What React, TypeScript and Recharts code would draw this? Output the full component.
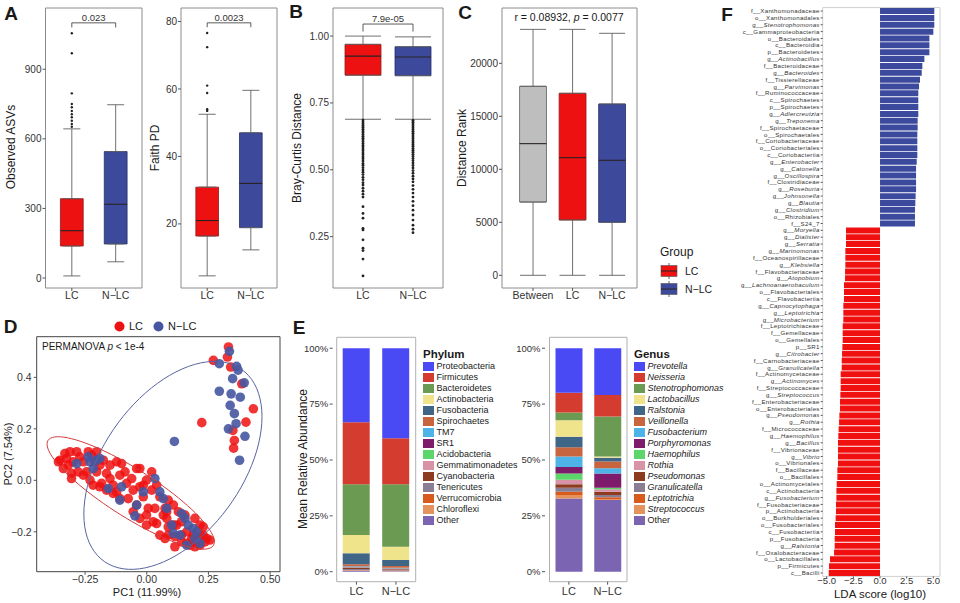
import React from "react";
import {
  Bar,
  BarChart,
  Cell,
  ErrorBar,
  Legend,
  ReferenceArea,
  ReferenceLine,
  Scatter,
  ScatterChart,
  XAxis,
  YAxis,
} from "recharts";

const FONT = "'Liberation Sans', Arial, Helvetica, sans-serif";
const INK = "#1a1a1a";
const LC_RED = "#ee1111";
const NLC_BLUE = "#3d4a9c";
const BETWEEN_GREY = "#bebebe";
const TICK = { fontSize: 10, fill: "#333", fontFamily: FONT };

// ---------- A: alpha diversity ----------
const alphaGroups = ["LC", "N−LC"];
const asvLow = [9, 70];
const asvQ1 = [138, 147];
const asvMedian = [204, 318];
const asvQ3 = [342, 545];
const asvHigh = [643, 747];
const asvOutliersLC = [1055, 969, 796, 750, 736, 720, 706, 693, 678, 664, 652];
const asvOutliersNLC: number[] = [];
const asvTicks = [0, 300, 600, 900];

const faithLow = [4.6, 12.3];
const faithQ1 = [16.4, 18.9];
const faithMedian = [21.0, 32.0];
const faithQ3 = [30.9, 47.0];
const faithHigh = [52.5, 59.6];
const faithOutliersLC = [76.6, 72.4, 61.0, 58.8, 54.0, 53.5];
const faithOutliersNLC: number[] = [];
const faithTicks = [20, 40, 60, 80];

// ---------- B: Bray-Curtis ----------
const brayLow = [0.689, 0.689];
const brayQ1 = [0.854, 0.852];
const brayMedian = [0.925, 0.922];
const brayQ3 = [0.969, 0.96];
const brayHigh = [1.0, 0.997];
const brayOutliersLC = [
  0.686, 0.679, 0.672, 0.666, 0.659, 0.652, 0.645, 0.639, 0.632, 0.625, 0.618, 0.612, 0.605, 0.598,
  0.591, 0.585, 0.578, 0.571, 0.563, 0.556, 0.548, 0.541, 0.533, 0.524, 0.517, 0.508, 0.499, 0.491,
  0.482, 0.472, 0.463, 0.452, 0.443, 0.431, 0.42, 0.409, 0.398, 0.362, 0.337, 0.319, 0.281, 0.275,
  0.238, 0.207, 0.198, 0.166, 0.103,
];
const brayOutliersNLC = [
  0.685, 0.678, 0.671, 0.664, 0.657, 0.651, 0.644, 0.637, 0.63, 0.623, 0.616, 0.609, 0.602, 0.595,
  0.588, 0.58, 0.573, 0.566, 0.558, 0.55, 0.542, 0.534, 0.525, 0.516, 0.507, 0.497, 0.487, 0.476,
  0.466, 0.455, 0.441, 0.427, 0.413, 0.398, 0.382, 0.366, 0.349, 0.331, 0.312, 0.293, 0.278, 0.265,
];
const brayTicks = [0.25, 0.5, 0.75, 1.0];

// ---------- C: ANOSIM distance ranks ----------
const rankGroups = ["Between", "LC", "N−LC"];
const rankLow = [0, 0, 0];
const rankQ1 = [6910, 5220, 5000];
const rankMedian = [12420, 11100, 10850];
const rankQ3 = [17830, 17170, 16160];
const rankHigh = [23200, 23200, 22830];
const rankTicks = [0, 5000, 10000, 15000, 20000];

const legendGroups = ["LC", "N−LC"];
const legendGroupColors = [LC_RED, NLC_BLUE];

// ---------- D: PCoA ----------
const lcScores: [number, number][] = [
  [-0.352, 0.078], [-0.332, 0.104], [-0.311, 0.111], [-0.284, 0.111], [-0.271, 0.091], [-0.318, 0.059],
  [-0.298, 0.072], [-0.338, 0.046], [-0.305, 0.027], [-0.257, 0.072], [-0.237, 0.111], [-0.223, 0.098],
  [-0.21, 0.072], [-0.244, 0.033], [-0.203, 0.033], [-0.19, 0.059], [-0.176, 0.078], [-0.163, 0.027],
  [-0.183, -0.012], [-0.149, 0.007], [-0.136, -0.019], [-0.122, 0.072], [-0.102, 0.065], [-0.088, 0.033],
  [-0.082, -0.012], [-0.061, 0.007], [-0.041, 0.046], [-0.055, -0.038], [-0.028, -0.025], [-0.001, 0.001],
  [-0.014, -0.064], [0.02, -0.038], [0.04, -0.019], [0.053, -0.064], [0.087, -0.077], [0.074, -0.109],
  [0.108, -0.096], [0.128, -0.122], [0.155, -0.135], [0.195, -0.148], [0.216, -0.174], [0.243, -0.226],
  [0.229, -0.213], [0.202, -0.239], [0.175, -0.252], [0.141, -0.239], [0.114, -0.219], [0.087, -0.213],
  [0.053, -0.213], [0.026, -0.161], [-0.001, -0.174], [-0.028, -0.148], [0.006, -0.109], [-0.041, -0.096],
  [-0.075, -0.071], [-0.109, -0.071], [-0.136, -0.051], [-0.163, -0.038], [-0.19, -0.025], [-0.217, -0.019],
  [-0.23, 0.001], [-0.257, 0.02], [-0.278, 0.033], [-0.305, 0.007], [-0.325, 0.085], [-0.358, 0.072],
  [-0.203, 0.111], [-0.149, 0.059], [-0.109, 0.02], [-0.028, 0.046], [-0.122, -0.045], [0.081, -0.148],
  [0.121, -0.174], [0.162, -0.2], [0.216, -0.213], [0.236, -0.239], [0.256, -0.232], [0.182, -0.226],
  [0.141, -0.213], [0.108, -0.174], [0.067, -0.135], [0.033, -0.109], [0.04, -0.168], [0.087, -0.181],
  [0.141, -0.161], [0.162, -0.245], [0.195, -0.258], [0.216, -0.252], [0.114, -0.258], [0.074, -0.226],
  [-0.001, -0.135], [-0.055, -0.122], [-0.014, -0.019], [0.02, 0.033], [0.081, -0.122], [0.189, -0.213],
  [0.229, -0.181],
  [0.331, 0.518], [0.27, 0.466], [0.327, 0.479], [0.34, 0.44], [0.385, 0.375], [0.432, 0.278],
  [0.402, 0.226], [0.223, 0.224], [0.349, 0.194], [0.355, 0.155], [0.352, 0.125],
];
const nlcScores: [number, number][] = [
  [-0.284, 0.065], [-0.237, 0.091], [-0.203, 0.078], [-0.19, 0.085], [-0.23, 0.072], [-0.217, 0.046],
  [-0.156, -0.032], [-0.102, -0.025], [-0.109, -0.077], [-0.041, -0.096], [-0.048, -0.138], [-0.014, -0.045],
  [0.033, 0.007], [0.053, -0.045], [0.067, -0.071], [0.081, -0.109], [0.101, -0.174], [0.108, -0.206],
  [0.141, -0.129], [0.155, -0.148], [0.168, -0.174], [0.189, -0.187], [0.202, -0.2], [0.195, -0.226],
  [0.216, -0.245], [0.162, -0.252], [0.135, -0.213],
  [0.335, 0.501], [0.294, 0.453], [0.364, 0.443], [0.37, 0.428], [0.348, 0.395], [0.395, 0.379],
  [0.294, 0.346], [0.342, 0.336], [0.379, 0.323], [0.338, 0.291], [0.355, 0.259], [0.362, 0.22],
  [0.331, 0.2], [0.398, 0.171], [0.376, 0.078], [0.112, 0.151],
];
// confidence ellipses: centre and two conjugate half-axes, in PC units
const lcEllipse = { cx: -0.065, cy: -0.049, ax: 0.335, ay: -0.204, bx: 0.052, by: 0.078 };
const nlcEllipse = { cx: 0.106, cy: 0.058, ax: 0.361, ay: 0.189, bx: 0, by: 0.357 };
const pcXTicks = [-0.25, 0, 0.25, 0.5];
const pcYTicks = [-0.2, 0, 0.2, 0.4];

// ---------- E: composition ----------
const phylumNames = [
  "Proteobacteria", "Firmicutes", "Bacteroidetes", "Actinobacteria", "Fusobacteria", "Spirochaetes",
  "TM7", "SR1", "Acidobacteria", "Gemmatimonadetes", "Cyanobacteria", "Tenericutes", "Verrucomicrobia",
  "Chloroflexi", "Other",
];
const phylumLC = [33.1, 27.8, 22.7, 8.2, 4.9, 0.9, 0.2, 0.2, 0.1, 0.3, 0.4, 0.5, 0.2, 0.2, 0.3];
const phylumNLC = [40.3, 20.6, 27.9, 6.0, 2.7, 0.7, 0.3, 0.1, 0.1, 0.2, 0.3, 0.3, 0.2, 0.1, 0.2];

const genusNames = [
  "Prevotella", "Neisseria", "Stenotrophomonas", "Lactobacillus", "Ralstonia", "Veillonella",
  "Fusobacterium", "Porphyromonas", "Haemophilus", "Rothia", "Pseudomonas", "Granulicatella",
  "Leptotrichia", "Streptococcus", "Other",
];
const genusLC = [19.9, 8.9, 3.4, 7.4, 4.7, 4.2, 4.6, 2.9, 2.8, 2.1, 1.5, 1.8, 1.5, 1.5, 32.8];
const genusNLC = [20.9, 9.7, 17.9, 0.5, 1.7, 3.0, 2.3, 6.4, 0.7, 1.1, 1.5, 1.0, 0.8, 0.4, 32.1];

const taxaPalette = [
  "#4a4af5", "#d53c30", "#6b9a52", "#efe38c", "#3f6587", "#c9653e", "#4eb3e6", "#7e1b6b",
  "#5cd66a", "#d893a7", "#8c3b1f", "#897e93", "#d95a1d", "#e4935f", "#7b65b2",
];
const abundanceTicks = [0, 25, 50, 75, 100];

// ---------- F: LEfSe ----------
const taxa = [
  "f__Xanthomonadaceae", "o__Xanthomonadales", "g__Stenotrophomonas", "c__Gammaproteobacteria",
  "o__Bacteroidales", "c__Bacteroidia", "p__Bacteroidetes", "g__Actinobacillus", "f__Bacteroidaceae",
  "g__Bacteroides", "f__Tissierellaceae", "g__Parvimonas", "f__Ruminococcaceae", "c__Spirochaetes",
  "p__Spirochaetes", "g__Adlercreutzia", "g__Treponema", "f__Spirochaetaceae", "o__Spirochaetales",
  "f__Coriobacteriaceae", "o__Coriobacteriales", "c__Coriobacteriia", "g__Enterobacter", "g__Catonella",
  "g__Oscillospira", "f__Clostridiaceae", "g__Roseburia", "g__Johnsonella", "g__Blautia",
  "g__Clostridium", "o__Rhizobiales", "f__S24_7",
  "g__Moryella", "g__Dialister", "g__Serratia", "g__Marinomonas", "f__Oceanospirillaceae",
  "g__Klebsiella", "f__Flavobacteriaceae", "g__Atopobium", "g__Lachnoanaerobaculum",
  "o__Flavobacteriales", "c__Flavobacteriia", "g__Capnocytophaga", "g__Leptotrichia",
  "g__Microbacterium", "f__Leptotrichiaceae", "f__Gemellaceae", "o__Gemellales", "p__SR1",
  "g__Citrobacter", "f__Carnobacteriaceae", "g__Granulicatella", "f__Actinomycetaceae",
  "g__Actinomyces", "f__Streptococcaceae", "g__Streptococcus", "f__Enterobacteriaceae",
  "o__Enterobacteriales", "g__Pseudomonas", "g__Rothia", "f__Micrococcaceae", "g__Haemophilus",
  "g__Bacillus", "f__Vibrionaceae", "g__Vibrio", "o__Vibrionales", "f__Bacillaceae", "o__Bacillales",
  "o__Actinomycetales", "c__Actinobacteria", "g__Fusobacterium", "f__Fusobacteriaceae",
  "p__Actinobacteria", "o__Burkholderiales", "o__Fusobacteriales", "c__Fusobacteriia",
  "p__Fusobacteria", "g__Ralstonia", "f__Oxalobacteraceae", "o__Lactobacillales", "p__Firmicutes",
  "c__Bacilli",
];
const ldaScores = [
  5.09, 5.09, 5.09, 5.0, 4.63, 4.63, 4.63, 4.16, 3.97, 3.91, 3.75, 3.66, 3.59, 3.59, 3.59, 3.59,
  3.53, 3.53, 3.5, 3.5, 3.5, 3.5, 3.44, 3.38, 3.38, 3.38, 3.38, 3.34, 3.31, 3.28, 3.28, 3.28,
  -3.19, -3.19, -3.19, -3.25, -3.25, -3.25, -3.28, -3.28, -3.38, -3.38, -3.38, -3.44, -3.44, -3.44,
  -3.5, -3.5, -3.5, -3.53, -3.56, -3.59, -3.59, -3.69, -3.69, -3.69, -3.72, -3.75, -3.75, -3.81,
  -3.84, -3.88, -3.91, -3.94, -3.94, -3.94, -3.94, -4.0, -4.0, -4.06, -4.09, -4.09, -4.13, -4.13,
  -4.16, -4.22, -4.22, -4.25, -4.25, -4.31, -4.69, -4.78, -4.81,
];
const ldaTicks = [-5, -2.5, 0, 2.5, 5];

// ---------- helpers ----------
const minus = (s: string) => s.replace("-", "−");
const Hidden = () => <g />;

function Txt({ x, y, size = 12, rotate = false, bold = false, children }: any) {
  return (
    <div
      style={{
        position: "absolute",
        left: x,
        top: y,
        transform: `translate(-50%, -50%)${rotate ? " rotate(-90deg)" : ""}`,
        fontSize: size,
        fontFamily: FONT,
        fontWeight: bold ? 700 : 400,
        whiteSpace: "nowrap",
        lineHeight: 1,
        color: INK,
      }}
    >
      {children}
    </div>
  );
}

type BoxProps = {
  left: number;
  width: number;
  yAxisWidth: number;
  marginRight: number;
  groups: string[];
  low: number[];
  q1: number[];
  median: number[];
  q3: number[];
  high: number[];
  outliers: number[][];
  fills: string[];
  strokes: string[];
  yDomain: [number, number];
  yTicks: number[];
  yFormat?: (v: number) => string;
  xDomain: [number, number];
  boxHalf: number;
  capHalf: number;
  dotR: number;
  bracket?: { y: number; end: number; text: string };
  legend?: React.ReactNode;
};

function BoxPanel(p: BoxProps) {
  const whiskers = p.groups.flatMap((_, i) => [
    { x: i + 1, y: p.q3[i], err: [0, p.high[i] - p.q3[i]] },
    { x: i + 1, y: p.q1[i], err: [p.q1[i] - p.low[i], 0] },
  ]);
  const dots = p.outliers.flatMap((vals, i) => vals.map((v) => ({ x: i + 1, y: v })));
  const Dot = (s: any) => <circle cx={s.cx} cy={s.cy} r={p.dotR} fill="#222" />;
  return (
    <div style={{ position: "absolute", left: p.left, top: 0 }}>
      <ScatterChart width={p.width} height={303} margin={{ top: 8, right: p.marginRight, bottom: 0, left: 0 }}>
        <XAxis
          type="number"
          dataKey="x"
          domain={p.xDomain}
          allowDataOverflow
          ticks={p.groups.map((_, i) => i + 1)}
          interval={0}
          tickFormatter={(v) => p.groups[Math.round(v) - 1] ?? ""}
          height={15}
          tickSize={3}
          tickMargin={1}
          axisLine={false}
          stroke="#555"
          tick={{ ...TICK, fontSize: 10.5 }}
        />
        <YAxis
          type="number"
          dataKey="y"
          domain={p.yDomain}
          allowDataOverflow
          ticks={p.yTicks}
          interval={0}
          tickFormatter={p.yFormat}
          width={p.yAxisWidth}
          tickSize={3}
          tickMargin={1}
          axisLine={false}
          stroke="#555"
          tick={TICK}
        />
        <ReferenceArea
          x1={p.xDomain[0]}
          x2={p.xDomain[1]}
          y1={p.yDomain[0]}
          y2={p.yDomain[1]}
          fill="none"
          stroke="#8c8c8c"
          ifOverflow="visible"
        />
        {p.groups.map((g, i) => (
          <ReferenceArea
            key={"box" + g}
            x1={i + 1 - p.boxHalf}
            x2={i + 1 + p.boxHalf}
            y1={p.q1[i]}
            y2={p.q3[i]}
            fill={p.fills[i]}
            fillOpacity={1}
            stroke={p.strokes[i]}
            strokeWidth={0.8}
            ifOverflow="visible"
          />
        ))}
        {p.groups.map((g, i) => (
          <ReferenceLine
            key={"med" + g}
            segment={[
              { x: i + 1 - p.boxHalf, y: p.median[i] },
              { x: i + 1 + p.boxHalf, y: p.median[i] },
            ]}
            stroke="#2a2222"
            strokeWidth={1.1}
          />
        ))}
        <Scatter data={whiskers} shape={Hidden} isAnimationActive={false}>
          <ErrorBar dataKey="err" direction="y" width={p.capHalf} stroke="#606060" strokeWidth={0.9} isAnimationActive={false} />
        </Scatter>
        <Scatter data={dots} shape={Dot} isAnimationActive={false} />
        {p.bracket && (
          <ReferenceLine
            segment={[
              { x: 1, y: p.bracket.y },
              { x: 2, y: p.bracket.y },
            ]}
            stroke="#333"
            strokeWidth={0.8}
            label={{ value: p.bracket.text, position: "top", offset: 2, fontSize: 9.5, fill: "#333", fontFamily: FONT }}
          />
        )}
        {p.bracket &&
          [1, 2].map((x) => (
            <ReferenceLine
              key={"tick" + x}
              segment={[
                { x, y: p.bracket!.y },
                { x, y: p.bracket!.end },
              ]}
              stroke="#333"
              strokeWidth={0.8}
            />
          ))}
        {p.legend && (
          <Legend
            layout="vertical"
            align="center"
            verticalAlign="middle"
            content={() => p.legend}
            wrapperStyle={{ left: 220, top: 243, width: 70 }}
          />
        )}
      </ScatterChart>
    </div>
  );
}

function GroupLegend() {
  return (
    <div style={{ fontFamily: FONT, color: INK }}>
      <div style={{ fontSize: 12, height: 19, lineHeight: "19px" }}>Group</div>
      {legendGroups.map((g, i) => (
        <div key={g} style={{ display: "flex", alignItems: "center", height: 18 }}>
          <svg width={18} height={18}>
            <line x1={9} x2={9} y1={1} y2={17} stroke="#666" />
            <rect x={1} y={3.5} width={16} height={11} fill={legendGroupColors[i]} stroke="#555" strokeWidth={0.6} />
            <line x1={1} x2={17} y1={9} y2={9} stroke="#2a2222" />
          </svg>
          <span style={{ fontSize: 10.5, marginLeft: 7 }}>{g}</span>
        </div>
      ))}
    </div>
  );
}

function ellipsePoints(e: typeof lcEllipse) {
  const pts = [];
  for (let k = 0; k <= 90; k++) {
    const t = (k / 90) * Math.PI * 2;
    pts.push({ x: e.cx + e.ax * Math.cos(t) + e.bx * Math.sin(t), y: e.cy + e.ay * Math.cos(t) + e.by * Math.sin(t) });
  }
  return pts;
}

function PcoaPanel() {
  const lc = lcScores.map(([x, y]) => ({ x, y }));
  const nlc = nlcScores.map(([x, y]) => ({ x, y }));
  const RedDot = (s: any) => <circle cx={s.cx} cy={s.cy} r={4.8} fill={LC_RED} fillOpacity={0.85} />;
  const BlueDot = (s: any) => <circle cx={s.cx} cy={s.cy} r={4.8} fill="#4656a0" fillOpacity={0.9} />;
  const fmt = (v: number, d: number) => minus(v.toFixed(d));
  return (
    <div style={{ position: "absolute", left: 0, top: 310 }}>
      <ScatterChart width={290} height={293} margin={{ top: 26.7, right: 10, bottom: 0, left: 0 }}>
        <XAxis
          type="number"
          dataKey="x"
          domain={[-0.446, 0.54]}
          allowDataOverflow
          ticks={pcXTicks}
          tickFormatter={(v) => fmt(v, 2)}
          height={31.3}
          tickSize={3}
          tickMargin={1}
          axisLine={false}
          stroke="#555"
          tick={{ ...TICK, fontSize: 10.5 }}
        />
        <YAxis
          type="number"
          dataKey="y"
          domain={[-0.355, 0.558]}
          allowDataOverflow
          ticks={pcYTicks}
          tickFormatter={(v) => fmt(v, 1)}
          width={36.7}
          tickSize={3}
          tickMargin={2}
          axisLine={false}
          stroke="#555"
          tick={{ ...TICK, fontSize: 10.5 }}
        />
        <ReferenceArea x1={-0.446} x2={0.54} y1={-0.355} y2={0.558} fill="none" stroke="#444" ifOverflow="visible" />
        <Scatter data={lc} shape={RedDot} isAnimationActive={false} />
        <Scatter data={nlc} shape={BlueDot} isAnimationActive={false} />
        <Scatter data={ellipsePoints(lcEllipse)} shape={Hidden} line={{ stroke: "#d23c3c", strokeWidth: 1 }} lineType="joint" isAnimationActive={false} />
        <Scatter data={ellipsePoints(nlcEllipse)} shape={Hidden} line={{ stroke: "#5a63a0", strokeWidth: 1 }} lineType="joint" isAnimationActive={false} />
        <Legend
          layout="vertical"
          align="center"
          verticalAlign="middle"
          wrapperStyle={{ left: 114, top: 8, width: 120 }}
          content={() => (
            <div style={{ display: "flex", alignItems: "center", height: 16, fontFamily: FONT, fontSize: 11, color: INK }}>
              {legendGroups.map((g, i) => (
                <span key={g} style={{ display: "flex", alignItems: "center", marginRight: 10 }}>
                  <svg width={11} height={11}>
                    <circle cx={5.5} cy={5.5} r={5} fill={i === 0 ? LC_RED : "#4656a0"} />
                  </svg>
                  <span style={{ marginLeft: 4 }}>{g}</span>
                </span>
              ))}
            </div>
          )}
        />
      </ScatterChart>
    </div>
  );
}

function TaxaLegend({ title, names, italic }: { title: string; names: string[]; italic: boolean }) {
  return (
    <div style={{ fontFamily: FONT, color: INK }}>
      <div style={{ fontSize: 11.5, fontWeight: 700, height: 14, lineHeight: "14px" }}>{title}</div>
      {names.map((n, i) => (
        <div key={n} style={{ display: "flex", alignItems: "center", height: 11 }}>
          <span style={{ width: 10.5, height: 9.5, background: taxaPalette[i], display: "inline-block", marginRight: 3 }} />
          <span
            style={{
              fontSize: 9,
              lineHeight: "11px",
              whiteSpace: "nowrap",
              fontStyle: italic && n !== "Other" ? "italic" : "normal",
            }}
          >
            {n}
          </span>
        </div>
      ))}
    </div>
  );
}

function CompositionPanel({
  left, width, yAxisWidth, marginRight, names, lc, nlc, padding, title, italic, legendLeft,
}: {
  left: number; width: number; yAxisWidth: number; marginRight: number; names: string[]; lc: number[];
  nlc: number[]; padding: { left: number; right: number }; title: string; italic: boolean; legendLeft: number;
}) {
  const rows = [
    { group: "LC", ...Object.fromEntries(names.map((n, i) => [n, lc[i]])) },
    { group: "N−LC", ...Object.fromEntries(names.map((n, i) => [n, nlc[i]])) },
  ];
  const stackOrder = names.map((n, i) => ({ n, c: taxaPalette[i] })).reverse();
  return (
    <div style={{ position: "absolute", left, top: 310 }}>
      <BarChart width={width} height={293} data={rows} barSize={27} margin={{ top: 27.3, right: marginRight, bottom: 0, left: 0 }}>
        <XAxis
          dataKey="group"
          padding={padding}
          height={21.3}
          tickSize={3}
          tickMargin={2}
          axisLine={false}
          stroke="#555"
          tick={{ ...TICK, fontSize: 11 }}
        />
        <YAxis
          type="number"
          domain={[-4.48, 104.9]}
          allowDataOverflow
          ticks={abundanceTicks}
          tickFormatter={(v) => `${v}%`}
          width={yAxisWidth}
          tickSize={3}
          tickMargin={1.5}
          axisLine={false}
          stroke="#555"
          tick={{ ...TICK, fontSize: 9.5 }}
        />
        <ReferenceArea y1={-4.48} y2={104.9} fill="none" stroke="#b0b0b0" ifOverflow="visible" />
        {stackOrder.map(({ n, c }) => (
          <Bar key={n} dataKey={n} stackId="s" fill={c} isAnimationActive={false} />
        ))}
        <Legend
          layout="vertical"
          align="center"
          verticalAlign="middle"
          wrapperStyle={{ left: legendLeft, top: 37, width: 100 }}
          content={() => <TaxaLegend title={title} names={names} italic={italic} />}
        />
      </BarChart>
    </div>
  );
}

function TaxonTick(props: any) {
  const { x, y, payload } = props;
  const label: string = payload.value;
  const cut = label.indexOf("__") + 2;
  const prefix = label.slice(0, cut);
  const name = label.slice(cut);
  return (
    <text x={x} y={y} dy="0.35em" textAnchor="end" fontSize={6.1} letterSpacing={0.3} fill="#333" fontFamily={FONT}>
      <tspan>{prefix}</tspan>
      <tspan fontStyle={prefix === "g__" ? "italic" : "normal"}>{name}</tspan>
    </text>
  );
}

function LdaPanel() {
  const rows = taxa.map((t, i) => ({ taxon: t, lda: ldaScores[i] }));
  return (
    <div style={{ position: "absolute", left: 720, top: 0 }}>
      <BarChart
        layout="vertical"
        width={240}
        height={603}
        data={rows}
        barCategoryGap={0.5}
        margin={{ top: 7.6, right: 20, bottom: 12.6, left: 0 }}
      >
        <XAxis
          type="number"
          domain={[-5.375, 5.625]}
          allowDataOverflow
          ticks={ldaTicks}
          tickFormatter={(v) => minus(v.toFixed(1))}
          height={14}
          tickSize={2}
          tickMargin={-1}
          axisLine={false}
          stroke="#555"
          tick={{ ...TICK, fontSize: 9.5 }}
        />
        <YAxis
          type="category"
          dataKey="taxon"
          width={102.7}
          interval={0}
          tickSize={2}
          tickMargin={1}
          axisLine={false}
          stroke="#555"
          tick={(t: any) => <TaxonTick {...t} />}
        />
        <ReferenceArea x1={-5.375} x2={5.625} fill="none" stroke="#cfcfcf" ifOverflow="visible" />
        <Bar dataKey="lda" isAnimationActive={false}>
          {rows.map((r) => (
            <Cell key={r.taxon} fill={r.lda > 0 ? "#3c4a9e" : "#f01010"} />
          ))}
        </Bar>
      </BarChart>
    </div>
  );
}

export default function App() {
  return (
    <div style={{ position: "absolute", left: 0, top: 0, width: 960, height: 603, background: "#fff", overflow: "hidden" }}>
      <BoxPanel
        left={0}
        width={150}
        yAxisWidth={45.5}
        marginRight={8}
        groups={alphaGroups}
        low={asvLow}
        q1={asvQ1}
        median={asvMedian}
        q3={asvQ3}
        high={asvHigh}
        outliers={[asvOutliersLC, asvOutliersNLC]}
        fills={[LC_RED, NLC_BLUE]}
        strokes={["#8e1c1c", "#252e66"]}
        yDomain={[-43, 1164]}
        yTicks={asvTicks}
        xDomain={[0.4, 2.6]}
        boxHalf={0.26}
        capHalf={8.5}
        dotR={1.2}
        bracket={{ y: 1100, end: 1080, text: "0.023" }}
      />
      <BoxPanel
        left={140}
        width={145}
        yAxisWidth={41}
        marginRight={8}
        groups={alphaGroups}
        low={faithLow}
        q1={faithQ1}
        median={faithMedian}
        q3={faithQ3}
        high={faithHigh}
        outliers={[faithOutliersLC, faithOutliersNLC]}
        fills={[LC_RED, NLC_BLUE]}
        strokes={["#8e1c1c", "#252e66"]}
        yDomain={[1.0, 84.0]}
        yTicks={faithTicks}
        xDomain={[0.4, 2.6]}
        boxHalf={0.26}
        capHalf={8.5}
        dotR={1.2}
        bracket={{ y: 79.6, end: 78.3, text: "0.0023" }}
      />
      <BoxPanel
        left={245}
        width={205}
        yAxisWidth={88}
        marginRight={7}
        groups={alphaGroups}
        low={brayLow}
        q1={brayQ1}
        median={brayMedian}
        q3={brayQ3}
        high={brayHigh}
        outliers={[brayOutliersLC, brayOutliersNLC]}
        fills={[LC_RED, NLC_BLUE]}
        strokes={["#8e1c1c", "#252e66"]}
        yDomain={[0.058, 1.105]}
        yTicks={brayTicks}
        yFormat={(v) => v.toFixed(2)}
        xDomain={[0.4, 2.6]}
        boxHalf={0.36}
        capHalf={18}
        dotR={1.4}
        bracket={{ y: 1.045, end: 1.017, text: "7.9e-05" }}
      />
      <BoxPanel
        left={440}
        width={280}
        yAxisWidth={62}
        marginRight={83}
        groups={rankGroups}
        low={rankLow}
        q1={rankQ1}
        median={rankMedian}
        q3={rankQ3}
        high={rankHigh}
        outliers={[[], [], []]}
        fills={[BETWEEN_GREY, LC_RED, NLC_BLUE]}
        strokes={["#5e5e5e", "#8e1c1c", "#252e66"]}
        yDomain={[-1198, 25217]}
        yTicks={rankTicks}
        xDomain={[0.215, 3.63]}
        boxHalf={0.34}
        capHalf={13}
        dotR={1.2}
        legend={<GroupLegend />}
      />
      <PcoaPanel />
      <CompositionPanel
        left={290}
        width={230}
        yAxisWidth={42.7}
        marginRight={103.3}
        names={phylumNames}
        lc={phylumLC}
        nlc={phylumNLC}
        padding={{ left: 4, right: 1 }}
        title="Phylum"
        italic={false}
        legendLeft={133}
      />
      <CompositionPanel
        left={512}
        width={208}
        yAxisWidth={33}
        marginRight={89}
        names={genusNames}
        lc={genusLC}
        nlc={genusNLC}
        padding={{ left: 4.5, right: 4 }}
        title="Genus"
        italic={true}
        legendLeft={122}
      />
      <LdaPanel />

      <Txt x={11} y={13} size={19} bold>A</Txt>
      <Txt x={296} y={11} size={19} bold>B</Txt>
      <Txt x={465} y={12} size={19} bold>C</Txt>
      <Txt x={10.5} y={326} size={19} bold>D</Txt>
      <Txt x={299} y={327} size={19} bold>E</Txt>
      <Txt x={727} y={14} size={19} bold>F</Txt>

      <Txt x={11} y={147} rotate>Observed ASVs</Txt>
      <Txt x={155} y={148} rotate>Faith PD</Txt>
      <Txt x={297} y={148} rotate>Bray-Curtis Distance</Txt>
      <Txt x={462} y={148} rotate>Distance Rank</Txt>
      <Txt x={569} y={17} size={10.5}>
        r = 0.08932, <i>p</i> = 0.0077
      </Txt>
      <div style={{ position: "absolute", left: 42, top: 342, fontSize: 10, fontFamily: FONT, color: INK, whiteSpace: "nowrap", lineHeight: 1 }}>
        PERMANOVA <i>p</i> &lt; 1e-4
      </div>
      <Txt x={8} y={454} size={11} rotate>PC2 (7.54%)</Txt>
      <Txt x={147} y={592} size={11}>PC1 (11.99%)</Txt>
      <Txt x={303} y={459} rotate>Mean Relative Abundance</Txt>
      <Txt x={880} y={595} size={11.5}>LDA score (log10)</Txt>
    </div>
  );
}
